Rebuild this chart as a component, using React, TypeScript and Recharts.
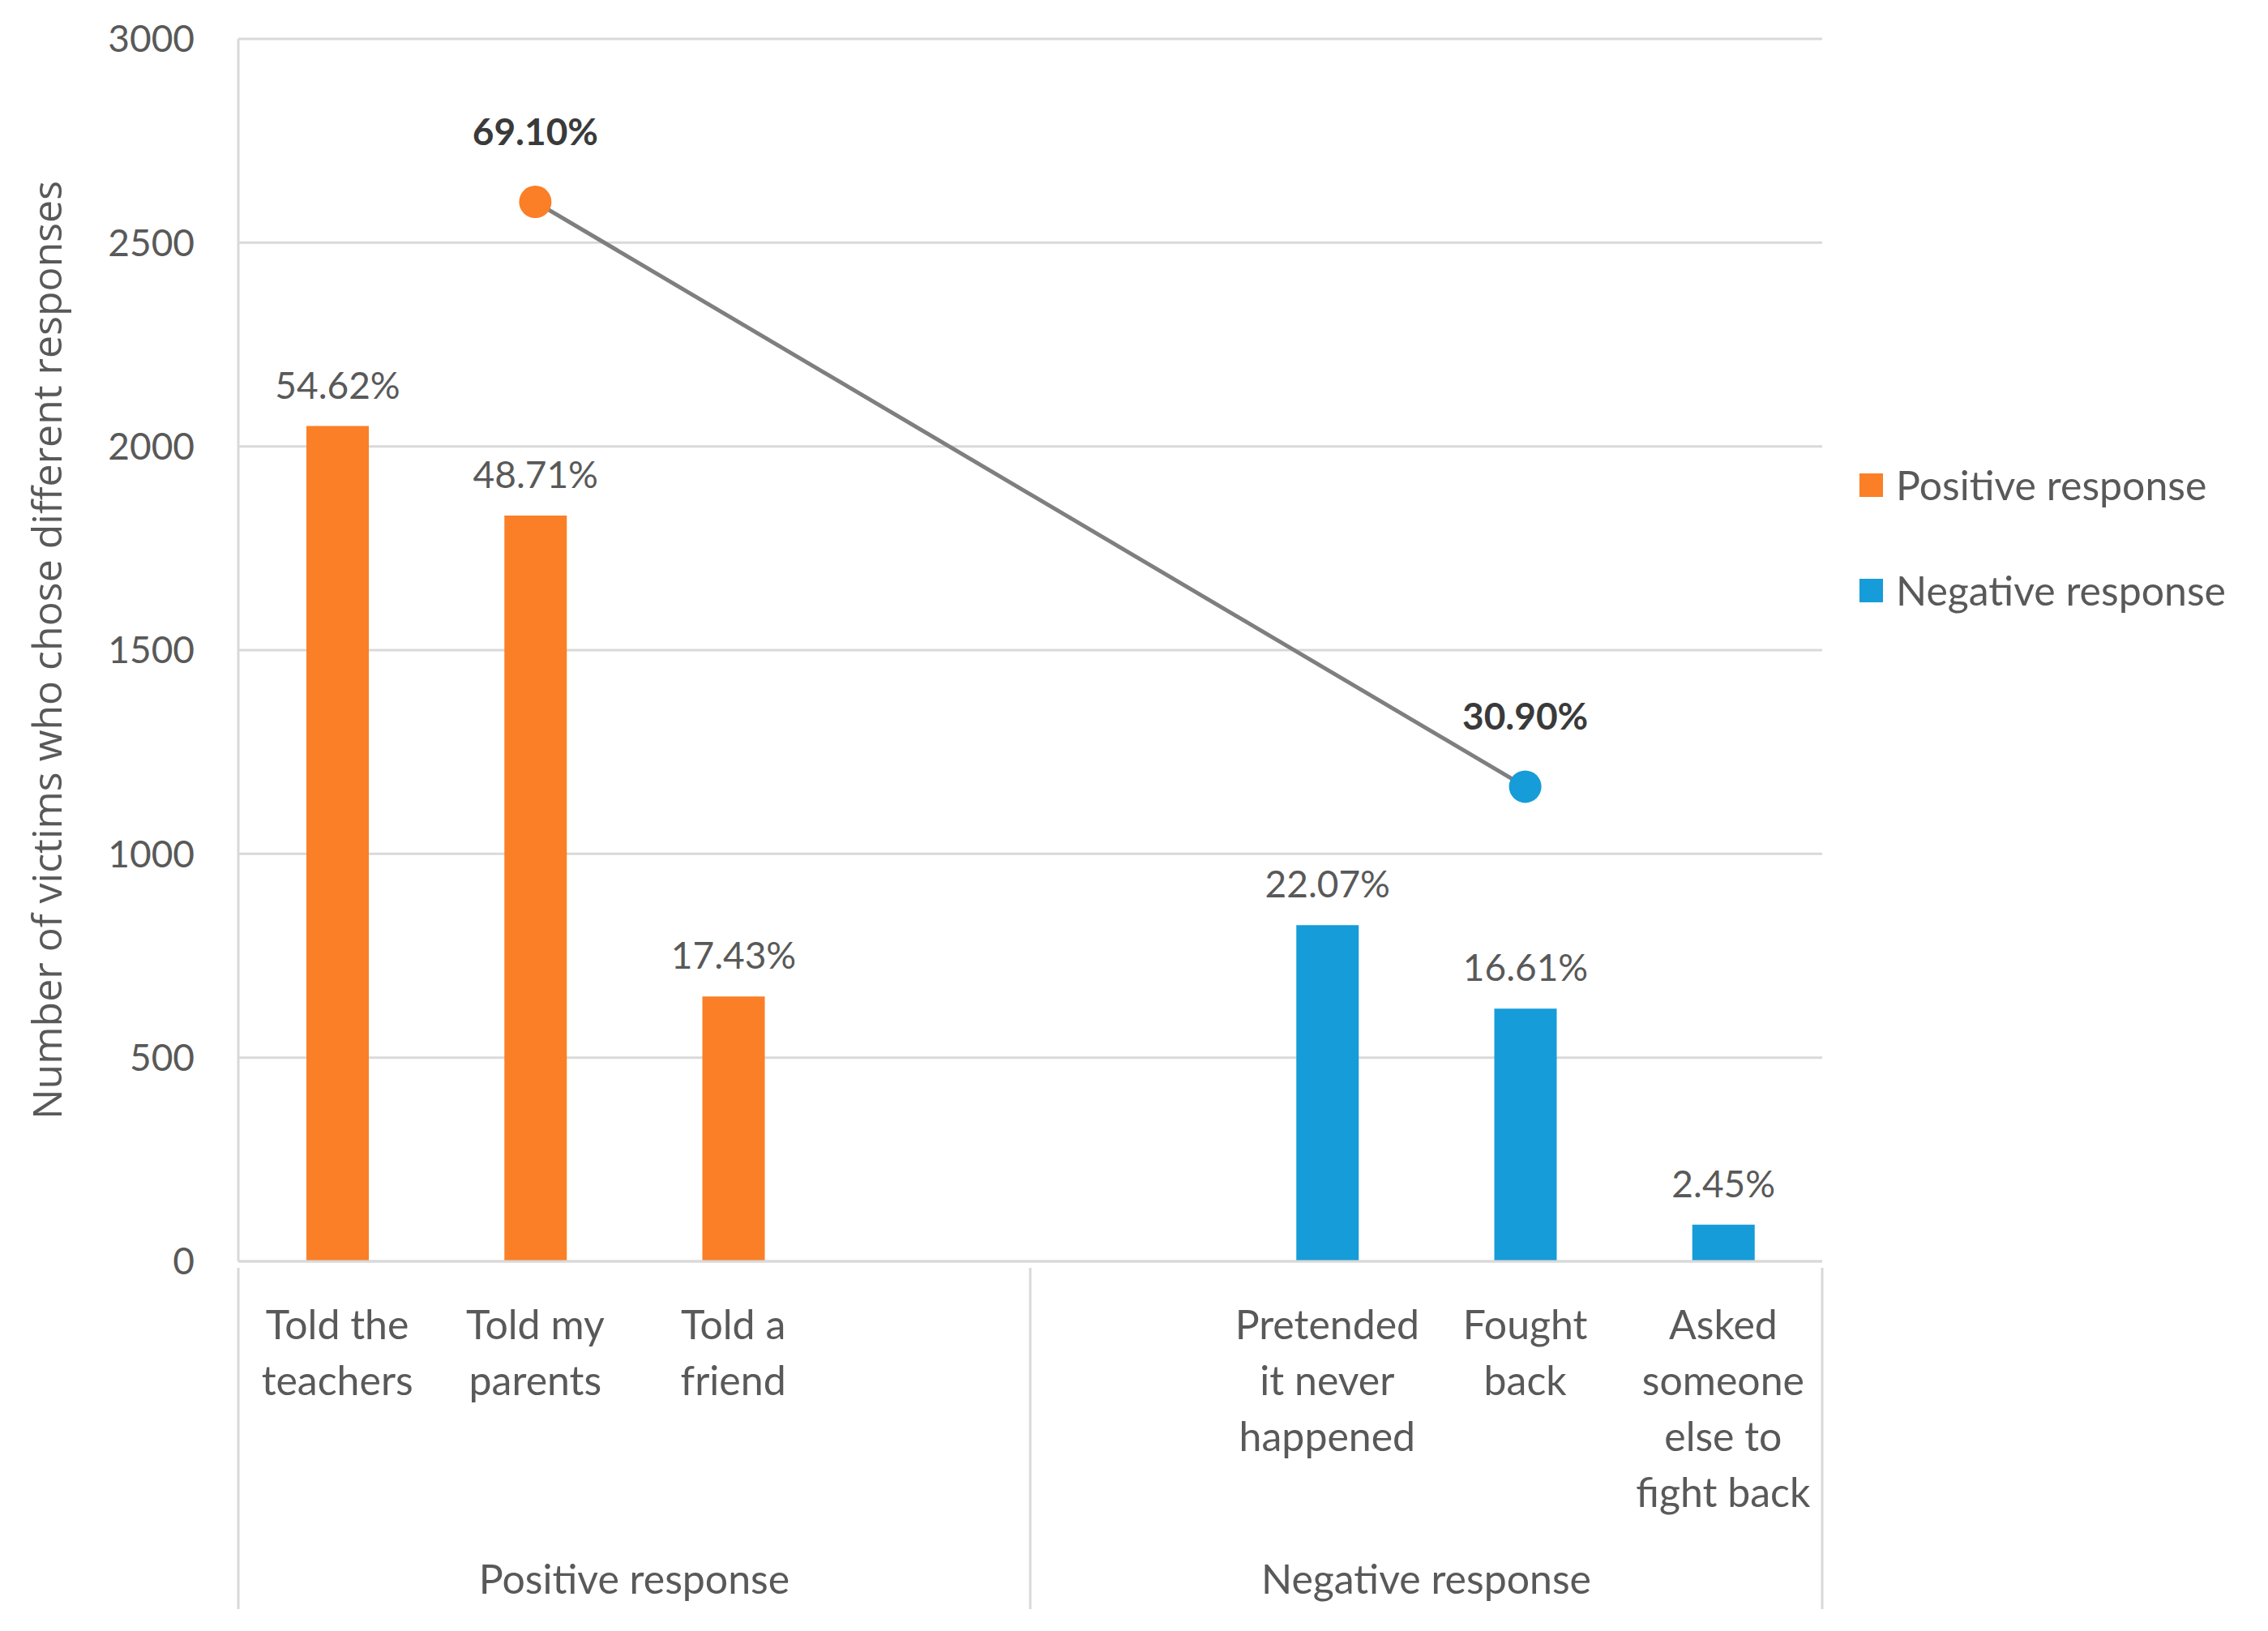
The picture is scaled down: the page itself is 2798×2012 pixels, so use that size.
import { ComposedChart, Bar, Line, XAxis, YAxis, CartesianGrid, LabelList } from 'recharts';

const categories = ['Told the\nteachers', 'Told my\nparents', 'Told a\nfriend', '', '', 'Pretended\nit never\nhappened', 'Fought\nback', 'Asked\nsomeone\nelse to\nfight back'];
const positiveValues = [2050, 1830, 650, null, null, null, null, null];
const negativeValues = [null, null, null, null, null, 825, 620, 90];
const barLabels = ['54.62%', '48.71%', '17.43%', '', '', '22.07%', '16.61%', '2.45%'];
const totalValues = [null, 2600, null, null, null, null, 1165, null];
const totalLabels = ['', '69.10%', '', '', '', '', '30.90%', ''];
const groups = ['Positive response', 'Negative response'];
const yTicks = [0, 500, 1000, 1500, 2000, 2500, 3000];

const ORANGE = '#FA7F26';
const BLUE = '#169CD8';
const GRAY = '#595959';
const GRID = '#d9d9d9';
const FONT = 'Lato, "Open Sans", sans-serif';

const data = categories.map((c, i) => ({
  key: i,
  name: c,
  positive: positiveValues[i],
  negative: negativeValues[i],
  label: barLabels[i],
  total: totalValues[i],
  totalLabel: totalLabels[i],
}));

const PLOT_W = 2248 - 294;
const SLOT = PLOT_W / categories.length;

const CategoryTick = (props: any) => {
  const { x, y, index } = props;
  const lines = (categories[index] || '').split('\n');
  const bottom = y + 421;
  return (
    <g>
      {lines.map((l, j) => (
        <text key={j} x={x} y={y + 88 + j * 69} textAnchor="middle" fill={GRAY} fontSize={50} fontFamily={FONT}>
          {l}
        </text>
      ))}
      {index === 0 && (
        <>
          <line x1={x - SLOT / 2} x2={x - SLOT / 2} y1={y} y2={bottom} stroke={GRID} strokeWidth={3} />
          <text x={x + 1.5 * SLOT} y={y + 402} textAnchor="middle" fill={GRAY} fontSize={50} fontFamily={FONT}>{groups[0]}</text>
        </>
      )}
      {index === 3 && <line x1={x + SLOT / 2} x2={x + SLOT / 2} y1={y} y2={bottom} stroke={GRID} strokeWidth={3} />}
      {index === 7 && (
        <>
          <line x1={x + SLOT / 2} x2={x + SLOT / 2} y1={y} y2={bottom} stroke={GRID} strokeWidth={3} />
          <text x={x - 1.5 * SLOT} y={y + 402} textAnchor="middle" fill={GRAY} fontSize={50} fontFamily={FONT}>{groups[1]}</text>
        </>
      )}
    </g>
  );
};

const TotalDot = (props: any) => {
  const { cx, cy, index, value } = props;
  if (value == null || cx == null) return null;
  return <circle key={index} cx={cx} cy={cy} r={20} fill={index < 4 ? ORANGE : BLUE} />;
};

const legendItems = [['Positive response', ORANGE], ['Negative response', BLUE]];

export default function App() {
  return (
    <div style={{ position: 'absolute', left: 0, top: 0, width: 2798, height: 2012, background: '#fff' }}>
      <ComposedChart width={2798} height={2012} data={data} margin={{ top: 48, right: 550, bottom: 0, left: 0 }}>
        <CartesianGrid vertical={false} stroke={GRID} strokeWidth={3} />
        <XAxis dataKey="key" tick={<CategoryTick />} tickLine={false} axisLine={{ stroke: GRID, strokeWidth: 3 }} height={456} interval={0} />
        <YAxis
          domain={[0, 3000]}
          ticks={yTicks}
          width={294}
          tickLine={false}
          axisLine={{ stroke: GRID, strokeWidth: 3 }}
          tickMargin={48}
          tick={{ fill: GRAY, fontSize: 46, fontFamily: FONT }}
          label={{ value: 'Number of victims who chose different responses', angle: -90, position: 'insideLeft', offset: 20, fill: GRAY, fontSize: 50, fontFamily: '"Open Sans", sans-serif', style: { textAnchor: 'middle' }, dx: 38 }}
        />
        <Bar dataKey="positive" stackId="a" fill={ORANGE} barSize={77} isAnimationActive={false} name="Positive response">
          <LabelList dataKey="label" position="top" offset={34} fill={GRAY} fontSize={46} fontFamily={FONT} />
        </Bar>
        <Bar dataKey="negative" stackId="a" fill={BLUE} barSize={77} isAnimationActive={false} name="Negative response">
          <LabelList dataKey="label" position="top" offset={34} fill={GRAY} fontSize={46} fontFamily={FONT} />
        </Bar>
        <Line dataKey="total" stroke="#7f7f7f" strokeWidth={5} connectNulls dot={<TotalDot />} activeDot={false} isAnimationActive={false} legendType="none">
          <LabelList dataKey="totalLabel" position="top" offset={70} fill="#3a3a3a" fontSize={46} fontWeight="bold" fontFamily={FONT} />
        </Line>
      </ComposedChart>
      <div style={{ position: 'absolute', left: 2294, top: 568, fontFamily: FONT, fontSize: 50, color: GRAY }}>
        {legendItems.map(([t, c], i) => (
          <div key={t} style={{ display: 'flex', alignItems: 'center', height: 60, marginBottom: i === 0 ? 70 : 0 }}>
            <span style={{ width: 29, height: 29, background: c, marginRight: 16, display: 'inline-block' }} />
            {t}
          </div>
        ))}
      </div>
    </div>
  );
}
